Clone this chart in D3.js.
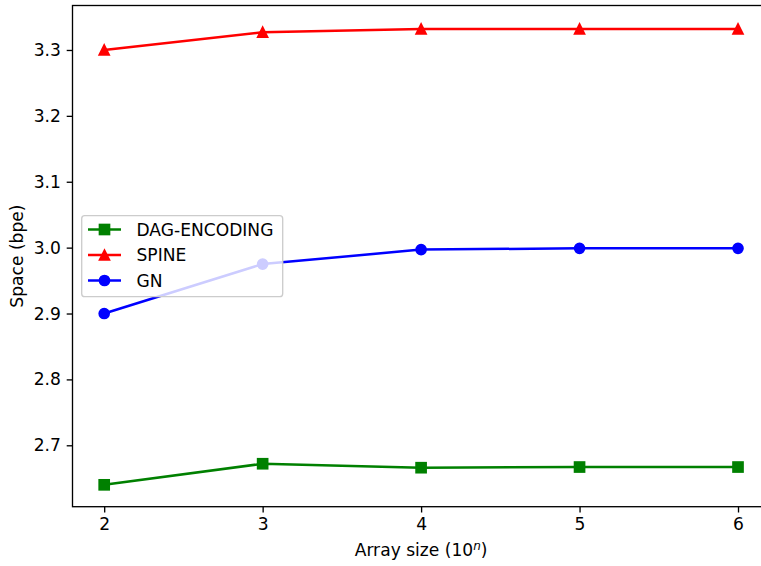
<!DOCTYPE html>
<html><head><meta charset="utf-8">
<script src="https://cdn.jsdelivr.net/npm/d3@7"></script>
<style>body{margin:0;background:#fff}svg{display:block;font-family:"DejaVu Sans",sans-serif}</style>
</head><body><svg id="c" width="761" height="566"></svg>
<script>
const sizes = [2, 3, 4, 5, 6];
const dagEncoding = [2.640, 2.672, 2.666, 2.667, 2.667];
const spine = [3.300, 3.327, 3.332, 3.332, 3.332];
const gn = [2.900, 2.975, 2.997, 2.999, 2.999];
const yTicks = [2.7, 2.8, 2.9, 3.0, 3.1, 3.2, 3.3];
const series = [
  {name: "DAG-ENCODING", values: dagEncoding, color: "#008000", marker: "square"},
  {name: "SPINE", values: spine, color: "#ff0000", marker: "triangle"},
  {name: "GN", values: gn, color: "#0000ff", marker: "circle"}
];

const FS = 17.1;
const svg = d3.select("#c");
const L = 72.5, R = 769.7, T = 5.5, B = 506.7;
const x = d3.scaleLinear().domain([1.8, 6.2]).range([L, R]);
const y = d3.scaleLinear().domain([2.6068, 3.3675]).range([B, T]);

const plot = svg.append("g");
const line = d3.line().x((d, i) => x(sizes[i])).y(d => y(d));
function drawMarker(g, type, cx, cy, color) {
  const sw = 1.67;
  if (type === "square") {
    g.append("rect").attr("x", cx - 5).attr("y", cy - 5).attr("width", 10).attr("height", 10)
      .attr("fill", color).attr("stroke", color).attr("stroke-width", sw);
  } else if (type === "circle") {
    g.append("circle").attr("cx", cx).attr("cy", cy).attr("r", 5).attr("fill", color).attr("stroke", color).attr("stroke-width", sw);
  } else {
    g.append("path").attr("d", `M${cx},${cy - 5}L${cx + 5},${cy + 5}L${cx - 5},${cy + 5}Z`)
      .attr("fill", color).attr("stroke", color).attr("stroke-width", sw).attr("stroke-linejoin", "miter");
  }
}
series.forEach(s => {
  plot.append("path").attr("d", line(s.values)).attr("fill", "none").attr("stroke", s.color).attr("stroke-width", 2.5);
  s.values.forEach((v, i) => drawMarker(plot, s.marker, x(sizes[i]), y(v), s.color));
});

// axes
const ax = svg.append("g").attr("transform", `translate(0,${B})`).call(d3.axisBottom(x).tickValues(sizes).tickFormat(d3.format("d")).tickSize(5.8).tickPadding(5.8));
const ay = svg.append("g").attr("transform", `translate(${L},0)`).call(d3.axisLeft(y).tickValues(yTicks).tickFormat(d3.format(".1f")).tickSize(5.8).tickPadding(5.8));
[ax, ay].forEach(a => {
  a.attr("font-size", FS).attr("font-family", "DejaVu Sans");
  a.select(".domain").remove();
  a.selectAll("text").attr("fill", "#000");
  a.selectAll("line").attr("stroke", "#000").attr("stroke-width", 1.33);
});
svg.append("rect").attr("x", L).attr("y", T).attr("width", R - L).attr("height", B - T).attr("fill", "none").attr("stroke", "#000").attr("stroke-width", 1.33);

svg.append("text").attr("x", (L + R) / 2).attr("y", 556).attr("text-anchor", "middle").attr("font-size", FS)
  .html('Array size (10<tspan dy="-6" font-size="12" font-style="italic">n</tspan><tspan dy="6">)</tspan>');
svg.append("text").attr("transform", `translate(23,${(T + B) / 2}) rotate(-90)`).attr("text-anchor", "middle").attr("font-size", FS).text("Space (bpe)");

// legend
const lg = svg.append("g");
lg.append("rect").attr("x", 81.7).attr("y", 215.7).attr("width", 201).attr("height", 81).attr("rx", 3)
  .attr("fill", "#fff").attr("fill-opacity", 0.8).attr("stroke", "#cccccc").attr("stroke-width", 1.33);
series.forEach((s, i) => {
  const yy = 229.5 + i * 25.5;
  lg.append("line").attr("x1", 88).attr("x2", 121).attr("y1", yy).attr("y2", yy).attr("stroke", s.color).attr("stroke-width", 2.5);
  drawMarker(lg, s.marker, 104.5, yy, s.color);
  lg.append("text").attr("x", 136.5).attr("y", yy + 6).attr("font-size", FS).attr("fill", "#000").text(s.name);
});
</script></body></html>
